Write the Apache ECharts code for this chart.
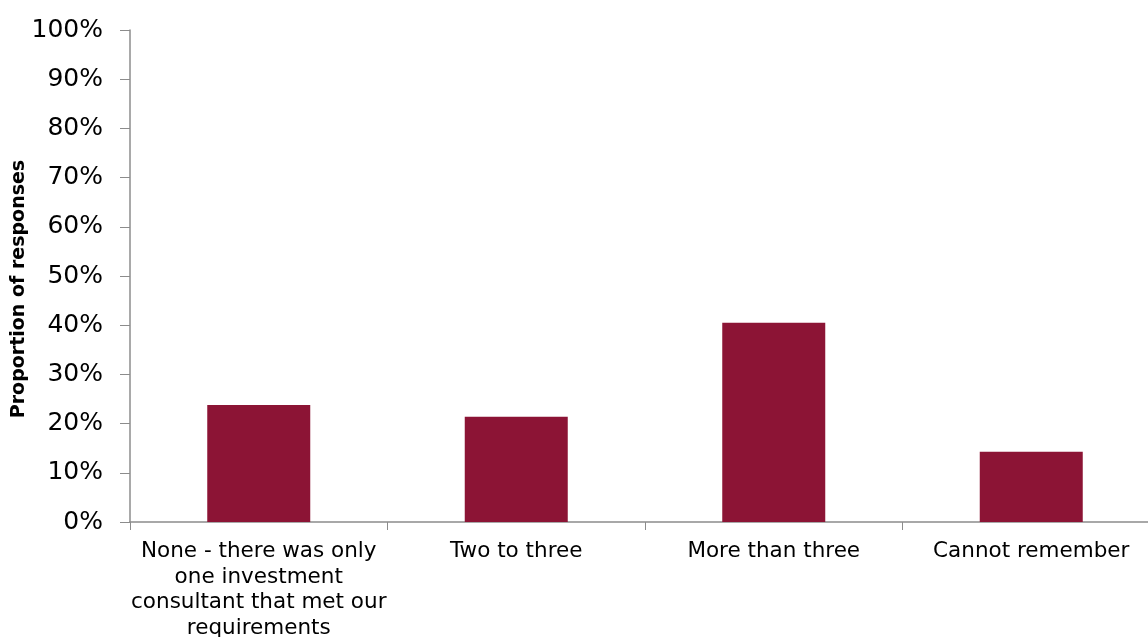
<!DOCTYPE html>
<html>
<head>
<meta charset="utf-8">
<style>html,body{margin:0;padding:0;background:#fff;}#c{width:1148px;height:637px;}</style>
<script src="https://cdn.jsdelivr.net/npm/echarts@6/dist/echarts.min.js"></script>
</head>
<body>
<div id="c"></div>
<script>
const categories = [
  "None - there was only\none investment\nconsultant that met our\nrequirements",
  "Two to three",
  "More than three",
  "Cannot remember"
];
const values = [23.8, 21.4, 40.5, 14.3];
const yTicks = [0, 10, 20, 30, 40, 50, 60, 70, 80, 90, 100];
const yTitle = "Proportion of responses";

const chart = echarts.init(document.getElementById('c'), null, {renderer: 'canvas'});
chart.setOption({
  animation: false,
  backgroundColor: '#ffffff',
  grid: {left: 130, top: 30, width: 1030, height: 492, containLabel: false, outerBoundsMode: 'none'},
  graphic: [{
    type: 'text',
    x: 19, y: 289, rotation: Math.PI / 2,
    style: {text: yTitle, font: 'bold 19px "DejaVu Sans"', fill: '#000', textAlign: 'center', textVerticalAlign: 'middle'}
  }],
  xAxis: {
    type: 'category',
    data: categories,
    axisLine: {lineStyle: {color: '#8c8c8c', width: 1.5}},
    axisTick: {show: true, length: 8, interval: 0, lineStyle: {color: '#8c8c8c'}},
    axisLabel: {interval: 0, margin: 17, color: '#000', fontFamily: 'DejaVu Sans', fontSize: 21.5, lineHeight: 25.5, align: 'center'}
  },
  yAxis: {
    type: 'value',
    min: yTicks[0], max: yTicks[yTicks.length - 1], interval: 10,
    axisLine: {show: true, lineStyle: {color: '#8c8c8c', width: 1.5}},
    axisTick: {show: true, length: 10, lineStyle: {color: '#8c8c8c'}},
    splitLine: {show: false},
    axisLabel: {margin: 27, color: '#000', fontFamily: 'DejaVu Sans', fontSize: 25, formatter: '{value}%'}
  },
  series: [{
    type: 'bar',
    data: values,
    barWidth: '40%',
    itemStyle: {color: '#8c1435'}
  }]
});
</script>
</body>
</html>
